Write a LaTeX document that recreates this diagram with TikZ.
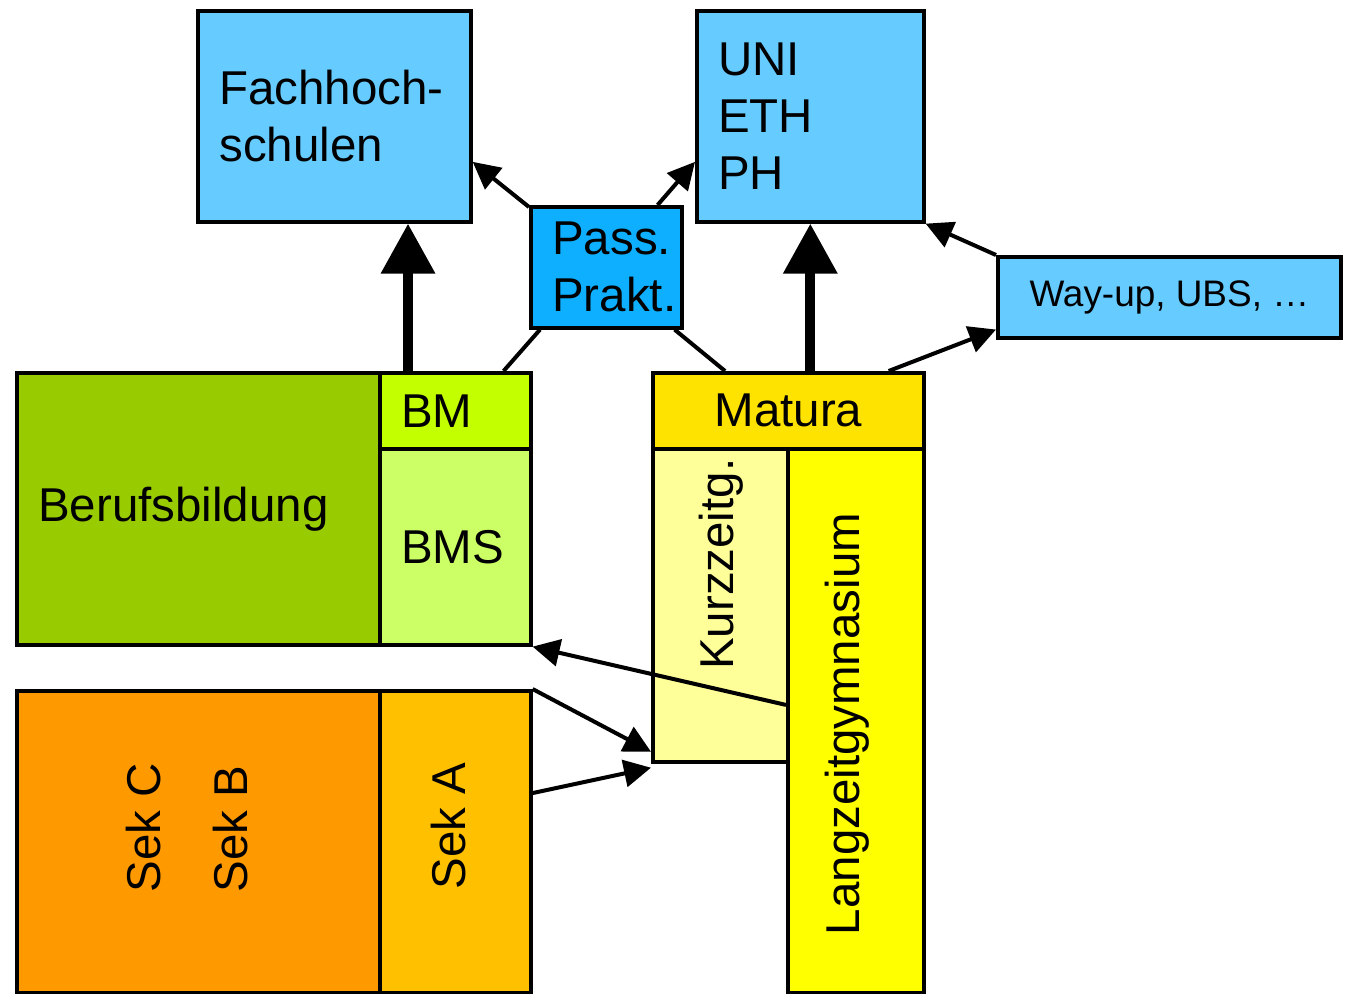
\documentclass[tikz,border=0pt]{standalone}
\usepackage{fontspec}
\setmainfont{Liberation Sans}
\usetikzlibrary{arrows.meta}
\definecolor{hsblue}{HTML}{66CCFF}
\definecolor{passblue}{HTML}{0FAFFF}
\definecolor{berufgreen}{HTML}{99CC00}
\definecolor{bmgreen}{HTML}{C4FF00}
\definecolor{bmsgreen}{HTML}{CCFF66}
\definecolor{sekorange}{HTML}{FF9900}
\definecolor{sekaorange}{HTML}{FFC000}
\definecolor{maturagold}{HTML}{FFE300}
\definecolor{kurzyellow}{HTML}{FFFF99}
\definecolor{langyellow}{HTML}{FFFF00}
\tikzset{
    box/.style={draw,line width=0.035cm,anchor=north west,inner sep=0pt,
        font=\fontsize{13.5}{16.2}\selectfont},
    lbox/.style={box,inner xsep=0.215cm,align=left},
    vtext/.style={rotate=90,inner sep=0pt,font=\fontsize{13.5}{16.2}\selectfont},
    thin/.style={line width=0.04cm},
    arr/.style={thin,-{Triangle[length=0.27cm,width=0.27cm]}},
    bigarr/.style={line width=0.1cm,-{Triangle[length=0.5cm,width=0.52cm]}}
}
\begin{document}
\begin{tikzpicture}[x=0.01cm,y=-0.01cm]
    \useasboundingbox (0,0) rectangle (1346,993);
    \node[lbox,fill=hsblue,minimum width=2.73cm,minimum height=2.11cm,text width=2.30cm] (fh) at (196,9) {Fachhoch-\\schulen};
    \node[lbox,fill=hsblue,minimum width=2.27cm,minimum height=2.11cm,text width=1.84cm] (uni) at (695,9) {UNI\\ETH\\PH};
    \node[lbox,fill=passblue,minimum width=1.51cm,minimum height=1.21cm,text width=1.08cm] (pass) at (529,205) {Pass.\\Prakt.};
    \node[box,fill=hsblue,minimum width=3.43cm,minimum height=0.81cm,font=\fontsize{10.5}{12.6}\selectfont] (way) at (996,255) {Way-up, UBS, …};
    \node[lbox,fill=berufgreen,minimum width=3.63cm,minimum height=2.72cm,text width=3.20cm] (beruf) at (15,371) {Berufsbildung};
    \node[lbox,fill=bmgreen,minimum width=1.51cm,minimum height=0.76cm,text width=1.08cm] (bm) at (378,371) {BM};
    \node[lbox,fill=bmsgreen,minimum width=1.51cm,minimum height=1.96cm,text width=1.08cm] (bms) at (378,447) {BMS};
    \node[box,fill=sekorange,minimum width=3.63cm,minimum height=3.02cm] (sekcb) at (15,689) {};
    \node[box,fill=sekaorange,minimum width=1.51cm,minimum height=3.02cm] (seka) at (378,689) {};
    \node[box,fill=maturagold,minimum width=2.71cm,minimum height=0.76cm] (matura) at (651,371) {Matura};
    \node[box,fill=kurzyellow,minimum width=1.35cm,minimum height=3.13cm] (kurz) at (651,447) {};
    \node[box,fill=langyellow,minimum width=1.36cm,minimum height=5.44cm] (lang) at (786,447) {};
    \node[vtext,anchor=west] (sekc) at (144,893) {Sek C};
    \node[vtext,anchor=west] (sekb) at (231,893) {Sek B};
    \node[vtext,anchor=west] (sekatext) at (449,890) {Sek A};
    \node[vtext,anchor=east] (kurztext) at (721,458) {Kurzzeitg.};
    \node[vtext] (langtext) at (847,724) {Langzeitgymnasium};
    \draw[bigarr] ([xshift=0.3cm]bm.north west) -- ([xshift=0.3cm]bm.north west |- fh.south);
    \draw[bigarr] (uni.south |- matura.north) -- (uni.south);
    \draw[thin] ([xshift=-0.29cm]bm.north east) -- ([xshift=0.11cm]pass.south west);
    \draw[thin] ([xshift=0.74cm]matura.north west) -- ([xshift=-0.09cm]pass.south east);
    \draw[arr] ([yshift=-0.02cm]pass.north west) -- ([yshift=-0.455cm]fh.east);
    \draw[arr] ([xshift=-0.26cm]pass.north east) -- ([yshift=-0.455cm]uni.west);
    \draw[arr] ([xshift=-0.37cm]matura.north east) -- ([yshift=0.1cm]way.south west);
    \draw[arr] (way.north west) -- (uni.south east);
    \draw[arr] ([yshift=0.16cm]lang.west) -- (bms.south east);
    \draw[arr] (seka.north east) -- ([yshift=0.12cm]kurz.south west);
    \draw[arr] ([yshift=-1.04cm]seka.north east) -- ([yshift=-0.04cm]kurz.south west);
\end{tikzpicture}
\end{document}
